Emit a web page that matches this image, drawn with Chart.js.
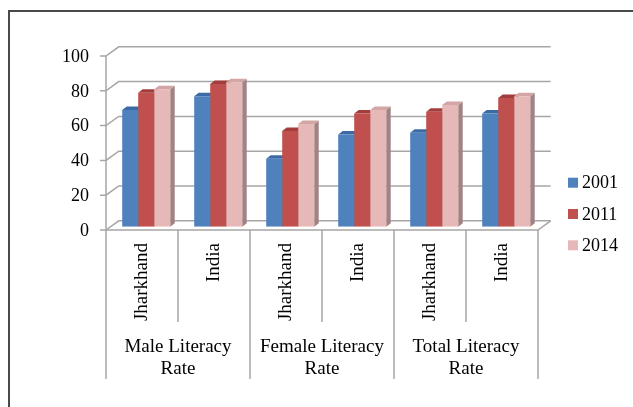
<!DOCTYPE html>
<html>
<head>
<meta charset="utf-8">
<script src="https://cdn.jsdelivr.net/npm/chart.js@4"></script>
<style>
  body { margin: 0; background: #fff; }
  canvas { display: block; }
</style>
</head>
<body>
<canvas id="grafico" width="633" height="407"></canvas>
<script>
const groupLabels = [["Male Literacy", "Rate"], ["Female Literacy", "Rate"], ["Total Literacy", "Rate"]];
const regions = ["Jharkhand", "India"];
const years = ["2001", "2011", "2014"];
const v2001 = [67, 75, 39, 53, 54, 65];
const v2011 = [77, 82, 55, 65, 66, 74];
const v2014 = [79, 83, 59, 67, 70, 75];
const yTicks = [0, 20, 40, 60, 80, 100];

const categories = [];
groupLabels.forEach(g => regions.forEach(r => categories.push(r)));

const frontCols = ["#4F81BD", "#C0504D", "#E6B9B8"];
const topCols = ["#3B6BA6", "#A23D3B", "#D3A6A5"];
const sideCols = ["#365F91", "#8E3836", "#A08383"];

const FONT = "Liberation Serif, 'Times New Roman', serif";
// 3D offsets: bar plane -> front of floor, bar plane -> back wall
const FX = -4.2, FY = 3.3, BX = 8.5, BY = -5.9;
const DX = 4.5, DY = -3.5; // bar depth

const efeito3d = {
  id: "efeito3d",
  beforeDraw(chart) {
    const ctx = chart.ctx;
    ctx.save();
    ctx.strokeStyle = "#4a4a4a";
    ctx.lineWidth = 2;
    ctx.beginPath();
    ctx.moveTo(9, 407);
    ctx.lineTo(9, 11);
    ctx.lineTo(633, 11);
    ctx.stroke();
    ctx.restore();
  },
  beforeDatasetsDraw(chart) {
    const ctx = chart.ctx;
    const a = chart.chartArea;
    const y = chart.scales.y;
    ctx.save();
    ctx.strokeStyle = "#a6a6a6";
    ctx.lineWidth = 1.5;
    // left wall edge
    ctx.beginPath();
    ctx.moveTo(a.left + FX, y.getPixelForValue(100) + FY);
    ctx.lineTo(a.left + FX, y.getPixelForValue(0) + FY);
    ctx.stroke();
    yTicks.forEach(t => {
      const py = y.getPixelForValue(t);
      ctx.beginPath();
      ctx.moveTo(a.left + FX - 6, py + FY);
      ctx.lineTo(a.left + FX, py + FY);
      ctx.lineTo(a.left + BX, py + BY);
      ctx.lineTo(a.right + BX, py + BY);
      ctx.stroke();
    });
    // floor
    const p0 = y.getPixelForValue(0);
    ctx.beginPath();
    ctx.moveTo(a.left + FX, p0 + FY);
    ctx.lineTo(a.right + FX, p0 + FY);
    ctx.lineTo(a.right + BX, p0 + BY);
    ctx.stroke();

    // bar tops and sides
    chart.data.datasets.forEach((ds, di) => {
      chart.getDatasetMeta(di).data.forEach(bar => {
        const l = bar.x - bar.width / 2, r = bar.x + bar.width / 2;
        const t = bar.y, b = bar.base;
        ctx.fillStyle = sideCols[di];
        ctx.beginPath();
        ctx.moveTo(r, t);
        ctx.lineTo(r + DX, t + DY);
        ctx.lineTo(r + DX, b + DY);
        ctx.lineTo(r, b);
        ctx.closePath();
        ctx.fill();
        ctx.fillStyle = topCols[di];
        ctx.beginPath();
        ctx.moveTo(l, t);
        ctx.lineTo(l + DX, t + DY);
        ctx.lineTo(r + DX, t + DY);
        ctx.lineTo(r, t);
        ctx.closePath();
        ctx.fill();
      });
    });
    ctx.restore();
  },
  afterDraw(chart) {
    const ctx = chart.ctx;
    const a = chart.chartArea;
    const x = chart.scales.x;
    const y = chart.scales.y;
    ctx.save();
    ctx.fillStyle = "#000";
    // y tick labels
    ctx.font = "18px " + FONT;
    ctx.textAlign = "right";
    ctx.textBaseline = "middle";
    yTicks.forEach(t => {
      ctx.fillText(String(t), a.left + FX - 17, y.getPixelForValue(t) + FY + 1);
    });

    // category separators and labels
    const floorY = y.getPixelForValue(0) + FY;
    const catW = (a.right - a.left) / categories.length;
    ctx.strokeStyle = "#a6a6a6";
    ctx.lineWidth = 1.5;
    for (let i = 0; i <= categories.length; i++) {
      const px = a.left + FX + i * catW;
      const longLine = i % regions.length === 0;
      ctx.beginPath();
      ctx.moveTo(px, floorY);
      ctx.lineTo(px, longLine ? floorY + 149 : floorY + 92);
      ctx.stroke();
    }
    ctx.font = "19px " + FONT;
    categories.forEach((c, i) => {
      const px = x.getPixelForValue(i) + FX;
      ctx.save();
      ctx.translate(px, floorY + 13);
      ctx.rotate(-Math.PI / 2);
      ctx.textAlign = "right";
      ctx.textBaseline = "middle";
      ctx.fillText(c, 0, 0);
      ctx.restore();
    });
    ctx.textAlign = "center";
    groupLabels.forEach((g, gi) => {
      const cx = a.left + FX + (gi + 0.5) * catW * regions.length;
      g.forEach((line, li) => {
        ctx.fillText(line, cx, floorY + 117 + li * 22.5);
      });
    });

    // legend
    ctx.font = "18px " + FONT;
    ctx.textAlign = "left";
    chart.data.datasets.forEach((ds, di) => {
      const ly = 182.7 + di * 31.3;
      ctx.fillStyle = frontCols[di];
      ctx.fillRect(568, ly - 5, 10, 10);
      ctx.fillStyle = "#000";
      ctx.fillText(ds.label, 582, ly + 1);
    });
    ctx.restore();
  }
};

new Chart(document.getElementById("grafico"), {
  type: "bar",
  data: {
    labels: categories,
    datasets: [
      { label: years[0], data: v2001, backgroundColor: frontCols[0] },
      { label: years[1], data: v2011, backgroundColor: frontCols[1] },
      { label: years[2], data: v2014, backgroundColor: frontCols[2] }
    ]
  },
  options: {
    responsive: false,
    animation: false,
    events: [],
    layout: { padding: { left: 110.2, right: 90.8, top: 52.7, bottom: 180.3 } },
    datasets: { bar: { categoryPercentage: 0.667, barPercentage: 1, borderWidth: 0 } },
    plugins: { legend: { display: false }, tooltip: { enabled: false } },
    scales: {
      x: { display: false },
      y: { display: false, min: 0, max: 100 }
    }
  },
  plugins: [efeito3d]
});
</script>
</body>
</html>
